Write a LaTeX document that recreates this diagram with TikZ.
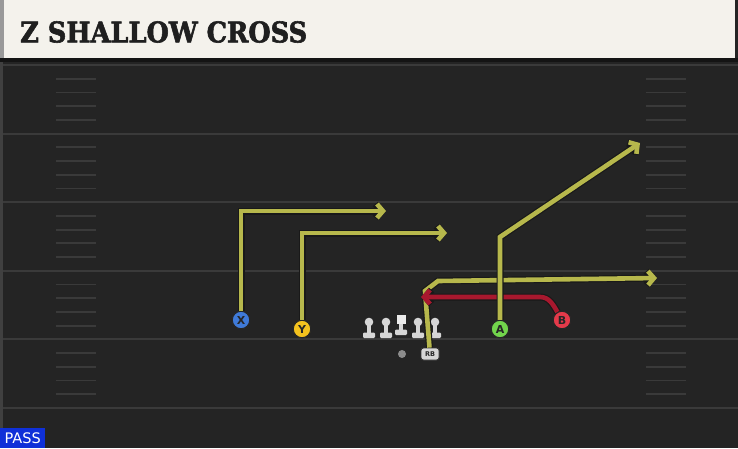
\documentclass[tikz,border=0pt]{standalone}
\usepackage{fontspec}
\setsansfont{DejaVu Sans}
\newfontfamily\titlefont{DejaVu Serif Condensed}[BoldFeatures={FakeBold=2}]
\usetikzlibrary{arrows.meta,positioning}

\definecolor{fieldbg}{HTML}{242424}
\definecolor{yardgrey}{HTML}{3A3A3A}
\definecolor{headcream}{HTML}{F4F2EC}
\definecolor{routeyel}{HTML}{B7B84C}
\definecolor{routered}{HTML}{A8182E}
\definecolor{xblue}{HTML}{3F7AD8}
\definecolor{yyellow}{HTML}{F4C21E}
\definecolor{agreen}{HTML}{72D44C}
\definecolor{bred}{HTML}{E43A4A}
\definecolor{manfill}{HTML}{D6D6D6}
\definecolor{passblue}{HTML}{0F30D8}

\tikzset{
  lineman/.pic={
    \fill[manfill, rounded corners=1.2pt] (-6,10.5) rectangle (6,16);
    \fill[manfill] (-2.2,0) rectangle (2.2,11);
    \fill[manfill] (0,0) circle (4.3);
  },
  snapper/.pic={
    \fill[manfill, rounded corners=1.2pt] (-6,10.5) rectangle (6,16);
    \fill[manfill] (-2.2,2) rectangle (2.2,11);
    \fill[white!92!black] (-4.5,-4.5) rectangle (4.5,4.5);
  }
}

\begin{document}
\begin{tikzpicture}[
    x=1pt, y=-1pt,
    yard/.style={draw=yardgrey, line width=2pt},
    hash/.style={draw=yardgrey, line width=1.8pt},
    player/.style={circle, draw=black!85, line width=1pt, minimum size=17.5pt, inner sep=0pt,
      font=\sffamily\bfseries\fontsize{11}{11}\selectfont, text=black!85},
    route/.style={draw=routeyel, line width=4.6pt, line join=miter,
      -{Straight Barb[length=6pt,width=14pt]},
      preaction={draw=black!90, line width=7pt}},
    redroute/.style={route, draw=routered}
]
    \useasboundingbox (0,0) rectangle (738,448);
    % field and header
    \fill[fieldbg] (0,0) rectangle (738,448);
    \fill[headcream] (4,0) rectangle (735,58);
    \fill[black!40] (0,0) rectangle (4,58);
    \fill[black!75] (0,58) rectangle (3,448);
    \fill[black!92] (0,58) rectangle (738,62);
    \node[anchor=west, text=black!88, font=\titlefont\bfseries\fontsize{28.5}{28.5}\selectfont,
      inner sep=0pt] (title) at (20,32) {Z SHALLOW CROSS};

    % yard lines and hash marks
    \foreach \k in {0,...,5}
        \draw[yard] (3,65+68.6*\k) -- (738,65+68.6*\k);
    \foreach \k in {0,...,4}
        \foreach \j in {1,...,4} {
            \draw[hash] (56,65+68.6*\k+13.7*\j) -- (96,65+68.6*\k+13.7*\j);
            \draw[hash] (646,65+68.6*\k+13.7*\j) -- (686,65+68.6*\k+13.7*\j);
        }

    % offensive line
    \pic (lt) at (369,322) {lineman};
    \pic (lg) at (386,322) {lineman};
    \pic (ctr) at (401,319) {snapper};
    \pic (rg) at (418,322) {lineman};
    \pic (rt) at (435,322) {lineman};
    \node[circle, fill=black!45, minimum size=8pt, inner sep=0pt] (qb) at (402,354) {};

    % skill players
    \node[player, fill=xblue] (X) at (241,320) {X};
    \node[player, fill=yyellow] (Y) at (302,329) {Y};
    \node[player, fill=agreen] (A) at (500,329) {A};
    \node[player, fill=bred] (B) at (562,320) {B};
    \node[rounded corners=2.5pt, fill=manfill, draw=black!80, line width=0.8pt,
      minimum width=18pt, minimum height=12pt, inner sep=0pt, text=black!85,
      font=\sffamily\bfseries\fontsize{6.5}{6.5}\selectfont] (rb) at (430,354) {RB};

    % route turns
    \coordinate (xturn) at (241,211);
    \coordinate (xend) at (386,211);
    \coordinate (yturn) at (302,233);
    \coordinate (yend) at (447,233);
    \coordinate (aturn) at (500,237);
    \coordinate (aend) at (640,143);
    \coordinate (bturn) at (540,297);
    \coordinate (bend) at (421,297);
    \coordinate (rbup) at (425,291);
    \coordinate (rbturn) at (438,281);
    \coordinate (rbend) at (657,278);

    % routes
    \draw[route] (X) -- (xturn) -- (xend);
    \draw[route] (Y) -- (yturn) -- (yend);
    \draw[route] (rb) -- (rbup) -- (rbturn) -- (rbend);
    \draw[redroute] (B) to[out=120, in=0] (bturn) -- (bend);
    \draw[route] (A) -- (aturn) -- (aend);

    % play type
    \node[anchor=south west, fill=passblue, text=white, minimum width=45pt, minimum height=20pt,
      inner sep=0pt, font=\sffamily\fontsize{14.5}{14.5}\selectfont] (pass) at (0,448) {PASS};
\end{tikzpicture}
\end{document}
